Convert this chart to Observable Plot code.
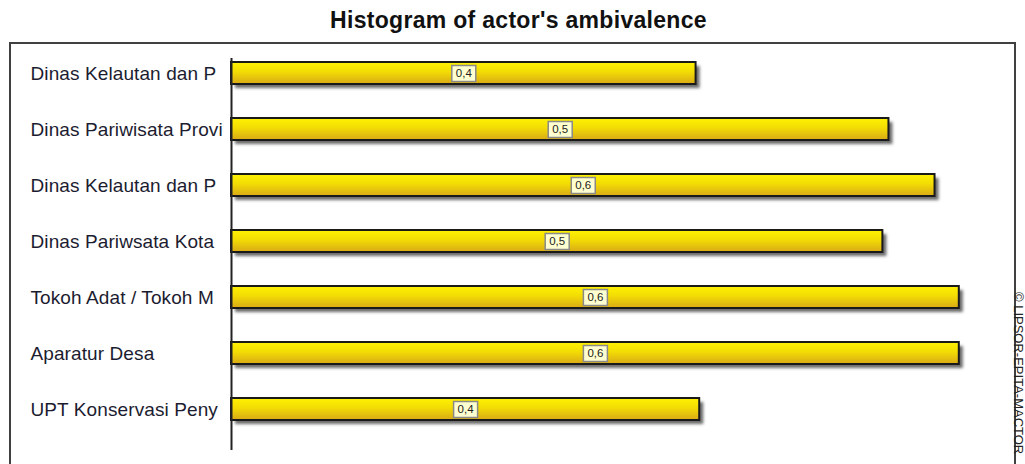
<!DOCTYPE html>
<html>
<head>
<meta charset="utf-8">
<script src="https://cdn.jsdelivr.net/npm/d3@7"></script>
<script src="https://cdn.jsdelivr.net/npm/@observablehq/plot@0.6"></script>
<style>
  html, body { margin: 0; padding: 0; background: #fff; }
  #wrap { position: relative; width: 1025px; height: 464px; overflow: hidden; }
  #title { position: absolute; left: 6px; top: 7px; width: 1025px; text-align: center; letter-spacing: 0.3px;
           font: bold 23px "Liberation Sans", Arial, sans-serif; color: #111; }
  #frame { position: absolute; left: 9px; top: 42px; width: 1003px; height: 440px;
           border: 2px solid #404040; box-sizing: content-box; }
  #chart { position: absolute; left: 0; top: 41px; }
  #mark { position: absolute; left: 1025px; top: 292px; transform-origin: 0 0; transform: rotate(90deg);
          font: 13px "Liberation Sans", Arial, sans-serif; color: #222; white-space: nowrap; line-height: 13px; }
</style>
</head>
<body>
<div id="wrap">
  <div id="title">Histogram of actor's ambivalence</div>
  <div id="frame"></div>
  <div id="chart"></div>
  <div id="mark">© LIPSOR-EPITA-MACTOR</div>
</div>
<script>
const actors = [
  "Dinas Kelautan dan P",
  "Dinas Pariwisata Provi",
  "Dinas Kelautan dan P",
  "Dinas Pariwsata Kota",
  "Tokoh Adat / Tokoh M",
  "Aparatur Desa",
  "UPT Konservasi Peny"
];
const ambivalence = [0.383, 0.542, 0.580, 0.537, 0.600, 0.600, 0.386];

const data = actors.map((a, i) => ({idx: i, actor: a, value: ambivalence[i], label: ambivalence[i].toFixed(1).replace(".", ",")}));

const labelBox = { draw(ctx) { ctx.rect(-12, -8, 24, 16); } };

const plot = Plot.plot({
  width: 1025,
  height: 423,
  marginLeft: 30,
  marginRight: 10,
  marginTop: 17,
  marginBottom: 14,
  style: { background: "transparent", fontFamily: "'Liberation Sans', Arial, sans-serif" },
  x: { domain: [0, 0.65], range: [231, 231 + 0.65 * 1213], axis: null },
  y: { domain: d3.range(actors.length), range: [17.5, 381.5], paddingInner: 0.614, paddingOuter: 0, axis: null },
  marks: [
    Plot.barX(data, { x: "value", y: "idx", fill: "#444", fillOpacity: 0.8, dx: 4, dy: 4 }),
    Plot.barX(data, { x: "value", y: "idx", fill: "url(#barGrad)", stroke: "#1a1a1a", strokeWidth: 2 }),
    Plot.ruleX([0], { stroke: "#222", strokeWidth: 2 }),
    Plot.dot(data, { x: d => d.value / 2, y: "idx", symbol: labelBox, r: 10, fill: "#ffffd0", stroke: "#8a8a8a", strokeWidth: 1.5 }),
    Plot.text(data, { x: d => d.value / 2, y: "idx", text: "label", fontSize: 11.5, fill: "#222" }),
    Plot.text(data, { y: "idx", text: "actor", frameAnchor: "left", textAnchor: "start", fontSize: 19, fill: "#1c1c30" })
  ]
});

const svg = d3.select(plot);
const defs = svg.insert("defs", ":first-child");
const g = defs.append("linearGradient").attr("id", "barGrad").attr("x1", 0).attr("y1", 0).attr("x2", 0).attr("y2", 1);
g.append("stop").attr("offset", "0%").attr("stop-color", "#fff200");
g.append("stop").attr("offset", "45%").attr("stop-color", "#f2dc05");
g.append("stop").attr("offset", "100%").attr("stop-color", "#d9a917");
const f = defs.append("filter").attr("id", "shadowBlur").attr("x", "-5%").attr("y", "-50%").attr("width", "110%").attr("height", "200%");
f.append("feGaussianBlur").attr("stdDeviation", 1.5);
svg.select("g[aria-label='bar']").attr("filter", "url(#shadowBlur)");
svg.selectAll("g[aria-label='text']").filter((d, i) => i === 1).attr("letter-spacing", "0.1px");

document.getElementById("chart").appendChild(plot);
</script>
</body>
</html>
